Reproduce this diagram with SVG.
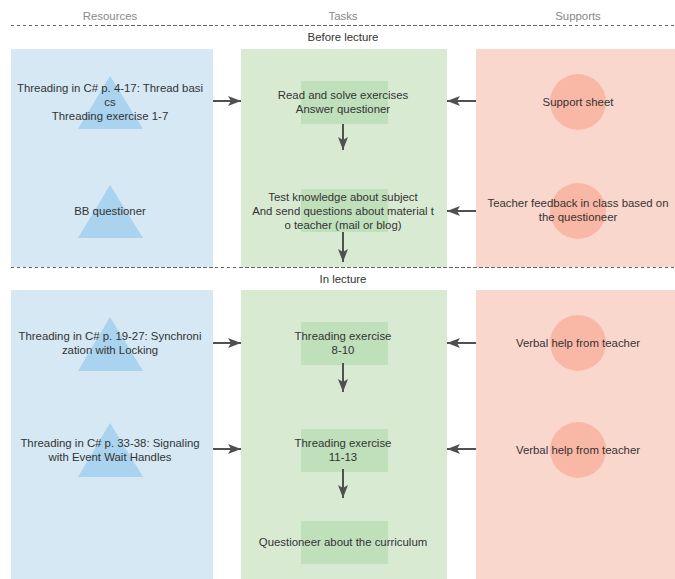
<svg xmlns="http://www.w3.org/2000/svg" width="675" height="579" viewBox="0 0 675 579">
<style>
text{font-family:"Liberation Sans",Arial,sans-serif;font-size:11.4px;fill:#333;text-anchor:middle;dominant-baseline:central}
.hdr{fill:#888}
.lane-b{fill:#d5e8f4}
.lane-g{fill:#d9ead3}
.lane-p{fill:#fad7cc}
.tri{fill:#a9d3ee}
.box{fill:#bfe0bb}
.circ{fill:#f9b8a6}
.sep{stroke:#666;stroke-width:1;stroke-dasharray:3 3;fill:none}
.sep2{stroke:#666;stroke-width:1;stroke-dasharray:3 3;stroke-dashoffset:3;fill:none}
.conn{stroke:#505050;stroke-width:2;fill:none;marker-end:url(#ah)}
</style>
<defs>
<marker id="ah" viewBox="0 0 13 10" refX="13" refY="5" markerWidth="6.5" markerHeight="5" markerUnits="strokeWidth" orient="auto">
<path d="M0,0 L13,5 L0,10 L3,5 Z" fill="#505050"/>
</marker>
</defs>

<g id="headers">
<text class="hdr" x="110" y="16">Resources</text>
<text class="hdr" x="343" y="16">Tasks</text>
<text class="hdr" x="578" y="16">Supports</text>
</g>

<g id="lanes">
<rect class="lane-b" x="11" y="49" width="202" height="218"/>
<rect class="lane-g" x="241" y="49" width="206" height="218"/>
<rect class="lane-p" x="476" y="49" width="199" height="218"/>
<rect class="lane-b" x="11" y="290" width="202" height="289"/>
<rect class="lane-g" x="241" y="290" width="206" height="289"/>
<rect class="lane-p" x="476" y="290" width="199" height="289"/>
</g>

<g id="separators">
<line class="sep" x1="11" y1="25.5" x2="675" y2="25.5"/>
<line class="sep2" x1="99" y1="25.5" x2="218" y2="25.5"/>
<line class="sep2" x1="237" y1="25.5" x2="557" y2="25.5"/>
<line class="sep" x1="11" y1="267.5" x2="675" y2="267.5"/>
<line class="sep2" x1="99" y1="267.5" x2="218" y2="267.5"/>
<line class="sep2" x1="237" y1="267.5" x2="557" y2="267.5"/>
<text x="343" y="37">Before lecture</text>
<text x="343" y="279">In lecture</text>
</g>

<g id="r1"><polygon class="tri" points="110,76 143,129 78,129"/>
<text x="110" y="88">Threading in C# p. 4-17: Thread basi</text>
<text x="110" y="102">cs</text>
<text x="110" y="116">Threading exercise 1-7</text></g>

<g id="r2"><polygon class="tri" points="110,185 143,238 78,238"/>
<text x="110" y="211">BB questioner</text></g>

<g id="r3"><polygon class="tri" points="110,317 143,371 78,371"/>
<text x="110" y="336">Threading in C# p. 19-27: Synchroni</text>
<text x="110" y="350">zation with Locking</text></g>

<g id="r4"><polygon class="tri" points="110,423 143,477 78,477"/>
<text x="110" y="443">Threading in C# p. 33-38: Signaling</text>
<text x="110" y="457">with Event Wait Handles</text></g>

<g id="t1"><rect class="box" x="301" y="81" width="87" height="43"/>
<text x="343" y="95">Read and solve exercises</text>
<text x="343" y="109">Answer questioner</text></g>

<g id="t2"><rect class="box" x="301" y="189" width="87" height="43"/>
<text x="343" y="197">Test knowledge about subject</text>
<text x="343" y="211">And send questions about material t</text>
<text x="343" y="225">o teacher (mail or blog)</text></g>

<g id="t3"><rect class="box" x="301" y="322" width="87" height="43"/>
<text x="343" y="336">Threading exercise</text>
<text x="343" y="350">8-10</text></g>

<g id="t4"><rect class="box" x="301" y="429" width="87" height="43"/>
<text x="343" y="443">Threading exercise</text>
<text x="343" y="457">11-13</text></g>

<g id="t5"><rect class="box" x="301" y="521" width="87" height="43"/>
<text x="343" y="542">Questioneer about the curriculum</text></g>

<g id="s1"><circle class="circ" cx="578" cy="102" r="28"/>
<text x="578" y="102">Support sheet</text></g>

<g id="s2"><circle class="circ" cx="578" cy="211" r="28"/>
<text x="578" y="203">Teacher feedback in class based on</text>
<text x="578" y="217">the questioneer</text></g>

<g id="s3"><circle class="circ" cx="578" cy="343" r="28"/>
<text x="578" y="343">Verbal help from teacher</text></g>

<g id="s4"><circle class="circ" cx="578" cy="450" r="28"/>
<text x="578" y="450">Verbal help from teacher</text></g>

<g id="connectors">
<line class="conn" x1="213" y1="101" x2="241" y2="101"/>
<line class="conn" x1="213" y1="343" x2="241" y2="343"/>
<line class="conn" x1="213" y1="449" x2="241" y2="449"/>
<line class="conn" x1="476" y1="101" x2="447" y2="101"/>
<line class="conn" x1="476" y1="211" x2="447" y2="211"/>
<line class="conn" x1="476" y1="343" x2="447" y2="343"/>
<line class="conn" x1="476" y1="449" x2="447" y2="449"/>
<line class="conn" x1="343" y1="124" x2="343" y2="150"/>
<line class="conn" x1="343" y1="232" x2="343" y2="262"/>
<line class="conn" x1="343" y1="363" x2="343" y2="392"/>
<line class="conn" x1="343" y1="469" x2="343" y2="498"/>
</g>
</svg>
